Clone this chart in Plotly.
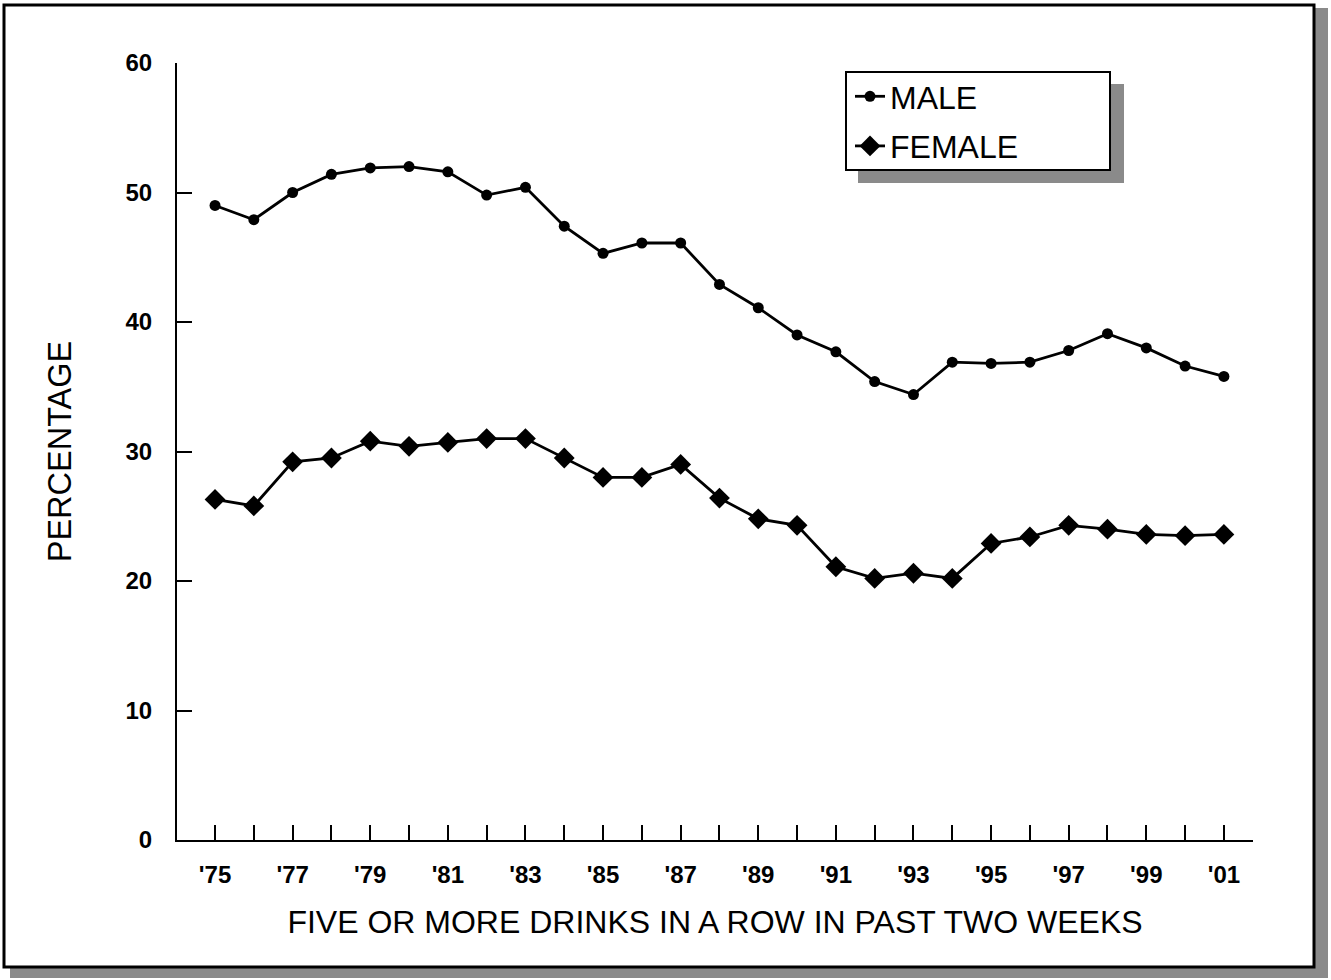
import plotly.graph_objects as go

years = list(range(1975, 2002))
tick_labels = ["'75", "", "'77", "", "'79", "", "'81", "", "'83", "", "'85", "", "'87", "",
               "'89", "", "'91", "", "'93", "", "'95", "", "'97", "", "'99", "", "'01"]
male = [49.0, 47.9, 50.0, 51.4, 51.9, 52.0, 51.6, 49.8, 50.4, 47.4, 45.3, 46.1, 46.1, 42.9,
        41.1, 39.0, 37.7, 35.4, 34.4, 36.9, 36.8, 36.9, 37.8, 39.1, 38.0, 36.6, 35.8]
female = [26.3, 25.8, 29.2, 29.5, 30.8, 30.4, 30.7, 31.0, 31.0, 29.5, 28.0, 28.0, 29.0, 26.4,
          24.8, 24.3, 21.1, 20.2, 20.6, 20.2, 22.9, 23.4, 24.3, 24.0, 23.6, 23.5, 23.6]
y_ticks = [0, 10, 20, 30, 40, 50, 60]

W, H = 1331, 980
L, R, T, B = 177, 1253, 63, 840
FONT = "Liberation Sans, Arial, Helvetica, sans-serif"


def px(x):
    return (x - L) / (R - L)


def py(y):
    return (B - y) / (B - T)


fig = go.Figure()
fig.add_trace(go.Scatter(x=years, y=male, name="MALE", mode="lines+markers",
                         line=dict(color="black", width=2.8),
                         marker=dict(symbol="circle", size=11, color="black"),
                         legendgroup="m"))
fig.add_trace(go.Scatter(x=years, y=female, name="FEMALE", mode="lines+markers",
                         line=dict(color="black", width=2.8),
                         marker=dict(symbol="diamond", size=16, color="black"),
                         legendgroup="f"))

shapes = [
    # outer frame shadow
    dict(type="rect", xref="paper", yref="paper", x0=px(1315), x1=px(1328), y0=py(8), y1=py(978),
         fillcolor="#8a8a8a", line=dict(width=0), layer="below"),
    dict(type="rect", xref="paper", yref="paper", x0=px(10), x1=px(1328), y0=py(968), y1=py(978),
         fillcolor="#8a8a8a", line=dict(width=0), layer="below"),
    # outer frame
    dict(type="rect", xref="paper", yref="paper", x0=px(4), x1=px(1314), y0=py(5), y1=py(967),
         fillcolor="rgba(0,0,0,0)", line=dict(color="black", width=3), layer="below"),
    # legend shadow
    dict(type="rect", xref="paper", yref="paper", x0=px(858), x1=px(1124), y0=py(84), y1=py(183),
         fillcolor="#8a8a8a", line=dict(width=0), layer="above"),
    # legend box
    dict(type="rect", xref="paper", yref="paper", x0=px(846), x1=px(1110), y0=py(72), y1=py(170),
         fillcolor="white", line=dict(color="black", width=2), layer="above"),
]

fig.update_layout(
    width=W, height=H,
    margin=dict(l=L, r=W - R, t=T, b=H - B),
    paper_bgcolor="white", plot_bgcolor="white",
    font=dict(family=FONT, color="black"),
    showlegend=True,
    legend=dict(x=px(850), y=py(69), xanchor="left", yanchor="top",
                bgcolor="rgba(0,0,0,0)", borderwidth=0,
                font=dict(size=32, family=FONT, color="black"),
                tracegroupgap=5, itemwidth=30),
    shapes=shapes,
    xaxis=dict(range=[1974.02, 2001.75], tickmode="array", tickvals=years, ticktext=tick_labels,
               ticks="inside", ticklen=15, tickwidth=2, tickcolor="black",
               showline=True, linecolor="black", linewidth=2, showgrid=False, zeroline=False,
               tickfont=dict(size=24, family=FONT, color="black", weight="bold"),
               ticklabelstandoff=12,
               title=dict(text="FIVE OR MORE DRINKS IN A ROW IN PAST TWO WEEKS",
                          font=dict(size=32, family=FONT, color="black"), standoff=24)),
    yaxis=dict(range=[0, 60], tickmode="array", tickvals=y_ticks,
               ticks="inside", ticklen=15, tickwidth=2, tickcolor="black",
               showline=True, linecolor="black", linewidth=2, showgrid=False, zeroline=False,
               tickfont=dict(size=24, family=FONT, color="black", weight="bold"),
               ticklabelstandoff=18,
               title=dict(text="PERCENTAGE",
                          font=dict(size=32.5, family=FONT, color="black"), standoff=44)),
)

fig.write_html("out.html", config={"displayModeBar": False},
               post_script="document.body.style.margin='0';document.body.style.overflow='hidden';")
